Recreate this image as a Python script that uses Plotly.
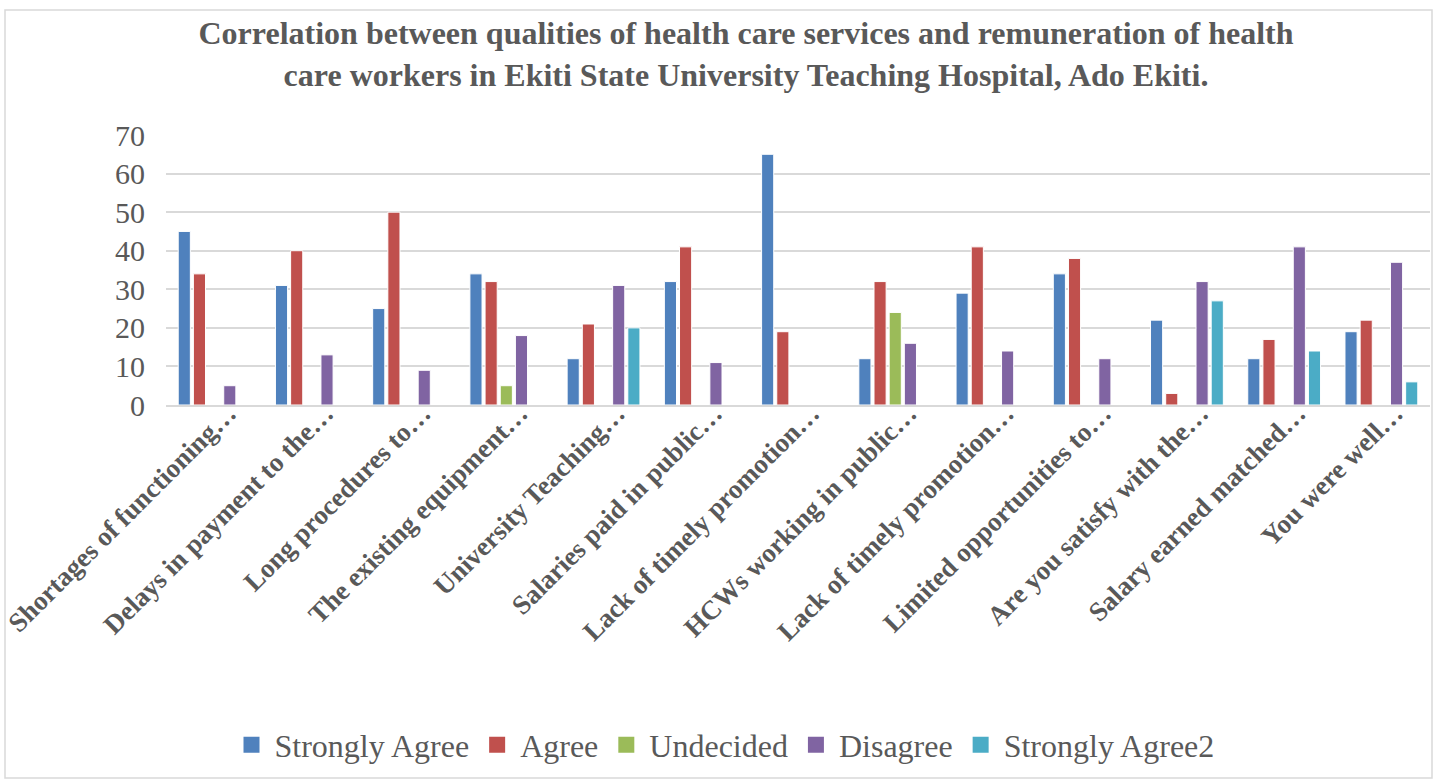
import plotly.graph_objects as go

categories = [
    "Shortages of functioning…",
    "Delays in payment to the…",
    "Long procedures to…",
    "The existing equipment…",
    "University Teaching…",
    "Salaries paid in public…",
    "Lack of timely promotion…",
    "HCWs working in public…",
    "Lack of timely promotion…",
    "Limited opportunities to…",
    "Are you satisfy with the…",
    "Salary earned matched…",
    "You were well…",
]
strongly_agree = [45, 31, 25, 34, 12, 32, 65, 12, 29, 34, 22, 12, 19]
agree = [34, 40, 50, 32, 21, 41, 19, 32, 41, 38, 3, 17, 22]
undecided = [0, 0, 0, 5, 0, 0, 0, 24, 0, 0, 0, 0, 0]
disagree = [5, 13, 9, 18, 31, 11, 0, 16, 14, 12, 32, 41, 37]
strongly_agree2 = [0, 0, 0, 0, 20, 0, 0, 0, 0, 0, 27, 14, 6]
y_ticks = [0, 10, 20, 30, 40, 50, 60, 70]

series = [
    ("Strongly Agree", strongly_agree, "#4F81BD"),
    ("Agree", agree, "#C0504D"),
    ("Undecided", undecided, "#9BBB59"),
    ("Disagree", disagree, "#8064A2"),
    ("Strongly Agree2", strongly_agree2, "#4BACC6"),
]

x = list(range(len(categories)))

fig = go.Figure()
for name, vals, color in series:
    fig.add_trace(go.Bar(
        x=x, y=vals, name=name, showlegend=False,
        marker=dict(color=color, line=dict(color="white", width=1)),
    ))
# legend entries with square swatches
for name, vals, color in series:
    fig.add_trace(go.Scatter(
        x=[None], y=[None], mode="markers", name=name,
        marker=dict(symbol="square", size=16, color=color),
    ))

gray = "#595959"
W, H = 1437, 780
L, R, T, B = 166, 7, 135, 375
pw = W - L - R
ph = H - T - B

fig.update_layout(
    width=W, height=H,
    margin=dict(l=L, r=R, t=T, b=B, autoexpand=False),
    paper_bgcolor="white", plot_bgcolor="white",
    barmode="group", bargap=0.22, bargroupgap=0.2,
    title=dict(
        text="<b>Correlation between qualities of health care services and remuneration of health<br>care workers in Ekiti State University Teaching Hospital, Ado Ekiti.</b>",
        x=746 / W, xanchor="center", y=1 - 44 / H, yanchor="middle",
        font=dict(family="Liberation Serif", size=32, color=gray),
    ),
    font=dict(family="Liberation Serif", color=gray),
    legend=dict(
        orientation="h", x=(724 - L) / pw, xanchor="center",
        y=-(745 - (H - B)) / ph, yanchor="middle",
        font=dict(family="Liberation Serif", size=32, color=gray),
        itemwidth=36, traceorder="normal",
    ),
    showlegend=True,
)
fig.update_xaxes(
    tickmode="array", tickvals=[v + 0.14 for v in x],
    ticktext=["<b>" + c + "</b>" for c in categories],
    tickangle=-45, range=[-0.5, len(categories) - 0.5],
    tickfont=dict(family="Liberation Serif", size=27, color=gray),
    showgrid=False, showline=True, linecolor="#d9d9d9", linewidth=1.5,
    ticks="", ticklabeloverflow="allow", ticklabelstandoff=-20,
    automargin=False,
)
fig.update_yaxes(
    range=[0, 70], tickmode="array", tickvals=y_ticks,
    tickfont=dict(family="Liberation Serif", size=30, color=gray),
    showgrid=True, gridcolor="#d9d9d9", gridwidth=1.5,
    zeroline=False, showline=False, ticks="", ticklabelstandoff=20,
    automargin=False,
)
fig.add_shape(
    type="rect", xref="paper", yref="paper",
    x0=(5 - L) / pw, x1=(1432 - L) / pw,
    y0=-(778 - (H - B)) / ph, y1=1 + (T - 10) / ph,
    line=dict(color="#d9d9d9", width=1.5), fillcolor="rgba(0,0,0,0)", layer="below",
)
fig.write_html("out.html")
